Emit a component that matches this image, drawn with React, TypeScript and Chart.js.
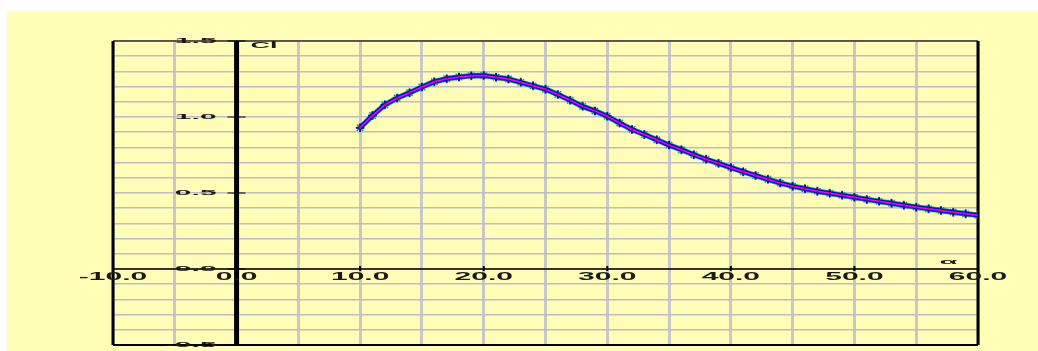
import React, { useEffect, useRef } from "react";
import { Chart, registerables } from "chart.js";

Chart.register(...registerables);

// Angle of attack (deg) and lift coefficient readings
const alphaDeg = [
  10, 11, 12, 13, 14, 15, 16, 17, 18, 19, 20, 21, 22, 23, 24, 25, 26, 27, 28, 29,
  30, 31, 32, 33, 34, 35, 36, 37, 38, 39, 40, 41, 42, 43, 44, 45, 46, 47, 48, 49,
  50, 51, 52, 53, 54, 55, 56, 57, 58, 59, 60,
];
const clValues = [
  0.93, 1.01, 1.08, 1.125, 1.16, 1.197, 1.232, 1.252, 1.263, 1.272, 1.273, 1.262,
  1.25, 1.228, 1.205, 1.183, 1.148, 1.11, 1.07, 1.04, 1.005, 0.96, 0.918, 0.885,
  0.85, 0.815, 0.785, 0.752, 0.722, 0.695, 0.667, 0.64, 0.615, 0.59, 0.565, 0.545,
  0.528, 0.512, 0.498, 0.485, 0.472, 0.458, 0.445, 0.432, 0.42, 0.407, 0.396,
  0.385, 0.374, 0.363, 0.353,
];

const xTickLabels = [-10, 0, 10, 20, 30, 40, 50, 60];
const yTickLabels = [-0.5, 0.0, 0.5, 1.0, 1.5];

const FONT = "bold 10px 'Liberation Sans', Arial, sans-serif";

function stretchedText(
  ctx: CanvasRenderingContext2D,
  text: string,
  x: number,
  y: number,
  align: CanvasTextAlign,
  sx: number,
  sy: number
) {
  ctx.save();
  ctx.translate(x, y);
  ctx.scale(sx, sy);
  ctx.font = FONT;
  ctx.fillStyle = "#1a1a1a";
  ctx.textAlign = align;
  ctx.textBaseline = "middle";
  ctx.fillText(text, 0, 0);
  ctx.restore();
}

const framePlugin = {
  id: "frame",
  beforeDraw(chart: any) {
    const { ctx, width, height } = chart;
    ctx.save();
    ctx.fillStyle = "#ffffff";
    ctx.fillRect(0, 0, width, height);
    ctx.fillStyle = "#FFFDB6";
    ctx.fillRect(7, 11, width - 7, height - 11);
    ctx.restore();
  },
  beforeDatasetsDraw(chart: any) {
    const { ctx, chartArea: a, scales } = chart;
    const xs = scales.x;
    const ys = scales.y;
    const x0 = xs.getPixelForValue(0);
    const y0 = ys.getPixelForValue(0);
    ctx.save();
    // frame
    ctx.strokeStyle = "#333";
    ctx.lineWidth = 1.5;
    ctx.beginPath();
    ctx.moveTo(a.left, a.top);
    ctx.lineTo(a.right, a.top);
    ctx.stroke();
    ctx.strokeStyle = "#000";
    ctx.lineWidth = 3;
    ctx.beginPath();
    ctx.moveTo(a.left, a.top);
    ctx.lineTo(a.left, a.bottom);
    ctx.moveTo(a.right, a.top);
    ctx.lineTo(a.right, a.bottom);
    ctx.stroke();
    ctx.lineWidth = 2;
    ctx.beginPath();
    ctx.moveTo(a.left, a.bottom);
    ctx.lineTo(a.right, a.bottom);
    ctx.stroke();
    // zero axes
    ctx.lineWidth = 1.5;
    ctx.beginPath();
    ctx.moveTo(a.left, y0);
    ctx.lineTo(a.right, y0);
    ctx.stroke();
    ctx.lineWidth = 5;
    ctx.beginPath();
    ctx.moveTo(x0, a.top);
    ctx.lineTo(x0, a.bottom);
    ctx.stroke();
    // tick marks
    ctx.lineWidth = 1;
    ctx.beginPath();
    for (const v of yTickLabels) {
      const py = ys.getPixelForValue(v);
      ctx.moveTo(x0 - 9, py);
      ctx.lineTo(x0 + 9, py);
    }
    ctx.stroke();
    ctx.lineWidth = 2;
    ctx.beginPath();
    for (const v of xTickLabels) {
      const px = xs.getPixelForValue(v);
      ctx.moveTo(px, y0 - 3);
      ctx.lineTo(px, y0 + 2);
    }
    ctx.stroke();
    ctx.restore();
  },
  afterDraw(chart: any) {
    const { ctx, scales } = chart;
    const xs = scales.x;
    const ys = scales.y;
    const x0 = xs.getPixelForValue(0);
    const y0 = ys.getPixelForValue(0);
    for (const v of xTickLabels) {
      stretchedText(ctx, v.toFixed(1), xs.getPixelForValue(v), y0 + 8.5, "center", 3.0, 1.0);
    }
    for (const v of yTickLabels) {
      stretchedText(ctx, v.toFixed(1), x0 - 20, ys.getPixelForValue(v) - 0.5, "right", 3.0, 0.8);
    }
    stretchedText(ctx, "Cl", x0 + 14, ys.getPixelForValue(1.5) + 5, "left", 2.7, 0.85);
    stretchedText(ctx, "\u03b1", xs.getPixelForValue(57.6), y0 - 6.5, "center", 2.9, 0.7);
  },
};

export default function App() {
  const ref = useRef<HTMLCanvasElement | null>(null);

  useEffect(() => {
    if (!ref.current) return;
    const pts = alphaDeg.map((a, i) => ({ x: a, y: clValues[i] }));
    const chart = new Chart(ref.current, {
      type: "line",
      data: {
        datasets: [
          {
            data: pts,
            order: 1,
            borderColor: "#FF00FF",
            borderWidth: 1.5,
            pointStyle: "circle",
            pointRadius: 1.2,
            pointBackgroundColor: "#FF0000",
            pointBorderColor: "#FF0000",
            pointBorderWidth: 0,
          },
          {
            data: pts,
            order: 2,
            borderColor: "#0000FF",
            borderWidth: 4,
            pointStyle: "cross",
            pointRadius: 4,
            pointBorderColor: "#0000FF",
            pointBorderWidth: 2,
          },
          {
            data: pts,
            order: 3,
            borderColor: "#00A040",
            borderWidth: 5.5,
            pointStyle: "star",
            pointRadius: 4.5,
            pointBorderColor: "#00B040",
            pointBorderWidth: 1.5,
          },
        ],
      },
      options: {
        responsive: false,
        animation: false,
        devicePixelRatio: 1,
        layout: { padding: { left: 113, right: 60, top: 41, bottom: 3 } },
        plugins: { legend: { display: false }, tooltip: { enabled: false } },
        elements: { line: { tension: 0 } },
        scales: {
          x: {
            type: "linear",
            min: -10,
            max: 60,
            ticks: { display: false, stepSize: 5 },
            border: { display: false },
            grid: { color: "#C8C8C8", lineWidth: 3, drawTicks: false },
            afterFit: (s: any) => {
              s.height = 0;
            },
          },
          y: {
            type: "linear",
            min: -0.5,
            max: 1.5,
            ticks: { display: false, stepSize: 0.1 },
            border: { display: false },
            grid: { color: "#BCBCCC", lineWidth: 1.5, drawTicks: false },
            afterFit: (s: any) => {
              s.width = 0;
            },
          },
        },
      },
      plugins: [framePlugin],
    });
    return () => chart.destroy();
  }, []);

  return (
    <div style={{ position: "absolute", left: 0, top: 0, width: 1038, height: 351 }}>
      <canvas ref={ref} width={1038} height={351} style={{ display: "block" }} />
    </div>
  );
}
